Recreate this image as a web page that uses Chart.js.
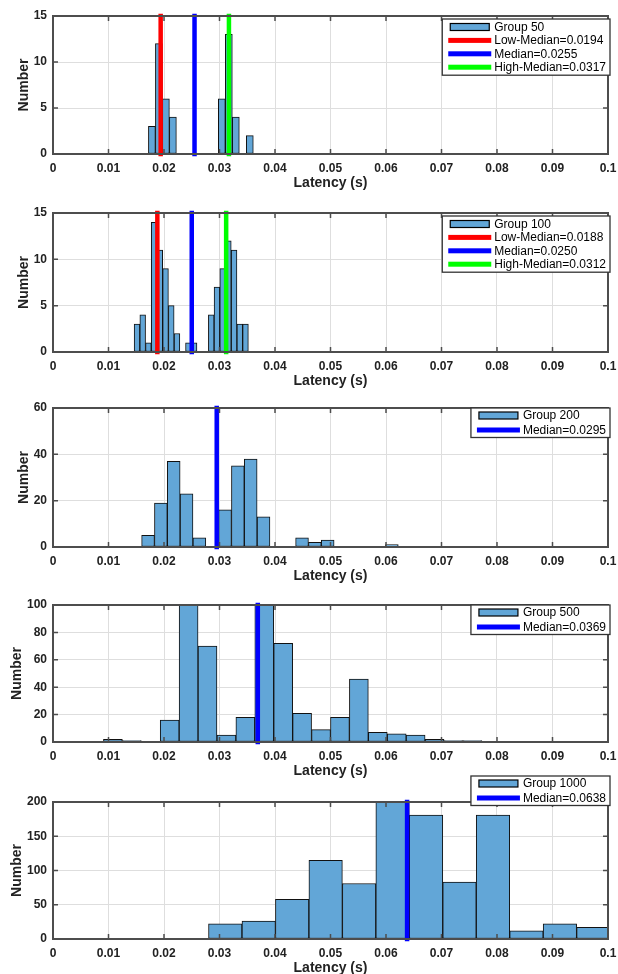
<!DOCTYPE html>
<html>
<head>
<meta charset="utf-8">
<script src="https://cdn.jsdelivr.net/npm/chart.js@4.4.1/dist/chart.umd.min.js"></script>
<style>
  html, body { margin: 0; padding: 0; background: #fff; }
  body { width: 618px; height: 974px; position: relative; overflow: hidden; }
  canvas { position: absolute; left: 0; }
</style>
</head>
<body>
<script>
/* ===============================
   DATA
================================ */
const groupSizes = [50, 100, 200, 500, 1000];

// left edge of first bin and bin width per group (seconds)
const binStarts = [0.01719, 0.01462, 0.01597, 0.00909, 0.0039];
const binWidths = [0.00126, 0.001029, 0.002312, 0.003409, 0.00603];

const counts50 = [3, 12, 6, 4, 0, 0, 0, 0, 0, 0, 6, 13, 4, 0, 2];
const counts100 = [3, 4, 1, 14, 11, 9, 5, 2, 0, 1, 1, 0, 0, 4, 7, 9, 12, 11, 3, 3];
const counts200 = [5, 19, 37, 23, 4, 0, 16, 35, 38, 13, 0, 0, 4, 2, 3, 0, 0, 0, 0, 1];
const counts500 = [2, 1, 0, 16, 100, 70, 5, 18, 100, 72, 21, 9, 18, 46, 7, 6, 5, 2, 1, 1];
const counts1000 = [0, 1, 1, 0, 22, 26, 58, 115, 81, 200, 181, 83, 181, 12, 22, 17];
const groupCounts = [counts50, counts100, counts200, counts500, counts1000];

const lowMedians = [0.0194, 0.0188, null, null, null];
const medians = [0.0255, 0.0250, 0.0295, 0.0369, 0.0638];
const highMedians = [0.0317, 0.0312, null, null, null];

const yMaxes = [15, 15, 60, 100, 200];
const ySteps = [5, 5, 20, 20, 50];

/* ===============================
   LAYOUT / STYLE
================================ */
const panelTops = [16, 213, 408, 605, 802];
const panelBottoms = [154, 352, 547, 742, 939];
const padTop = 30;
const xAxisH = 38;
const legendOffsets = [3, 3, 0, 0, -26];
const yTitlePads = [16, 16, 16, 9, 9];

const barFill = "#62a6d7";
const gridColor = "#dedede";
const frameColor = "#4d4d4d";
const textColor = "#222";
const tickFont = { family: "Liberation Sans, Arial, sans-serif", size: 12, weight: "bold" };
const titleFont = { family: "Liberation Sans, Arial, sans-serif", size: 14, weight: "bold" };

/* ===============================
   PLUGINS
================================ */
const frame = {
    id: "frame",
    afterDraw(chart) {
        const { ctx, chartArea: a } = chart;
        const xs = chart.scales.x, ys = chart.scales.y;
        ctx.save();
        ctx.strokeStyle = frameColor;
        ctx.lineWidth = 1.5;
        ctx.beginPath();
        xs.ticks.forEach(t => {
            const px = xs.getPixelForValue(t.value);
            ctx.moveTo(px, a.bottom); ctx.lineTo(px, a.bottom - 5);
            ctx.moveTo(px, a.top); ctx.lineTo(px, a.top + 5);
        });
        ys.ticks.forEach(t => {
            const py = ys.getPixelForValue(t.value);
            ctx.moveTo(a.left, py); ctx.lineTo(a.left + 5, py);
            ctx.moveTo(a.right, py); ctx.lineTo(a.right - 5, py);
        });
        ctx.stroke();
        ctx.lineWidth = 2;
        ctx.strokeRect(a.left, a.top, a.right - a.left, a.bottom - a.top);
        ctx.restore();
    }
};

const insideLegend = {
    id: "insideLegend",
    afterDraw(chart, args, opts) {
        const { ctx, chartArea: a } = chart;
        const sets = chart.data.datasets;
        ctx.save();
        ctx.font = "12px Liberation Sans, Arial, sans-serif";
        const textW = Math.max(...sets.map(d => ctx.measureText(d.label).width));
        const sampleW = 43;
        const w = 6 + sampleW + 3 + textW + 4;
        const h = opts.pad * 2 + (sets.length - 1) * opts.rowH;
        const x = a.right + 2 - w;
        const y = a.top + opts.offsetY;
        ctx.fillStyle = "#fff";
        ctx.fillRect(x, y, w, h);
        ctx.strokeStyle = "#333";
        ctx.lineWidth = 1.3;
        ctx.strokeRect(x, y, w, h);
        sets.forEach((d, i) => {
            const cy = y + opts.pad + i * opts.rowH;
            const sx = x + 6;
            if (d.type === "line") {
                ctx.fillStyle = d.borderColor;
                ctx.fillRect(sx, cy - 2.5, sampleW, 5);
            } else {
                ctx.fillStyle = d.backgroundColor;
                ctx.fillRect(sx + 2, cy - 3.5, sampleW - 4, 7);
                ctx.strokeStyle = "#000";
                ctx.lineWidth = 1.2;
                ctx.strokeRect(sx + 2, cy - 3.5, sampleW - 4, 7);
            }
            ctx.fillStyle = "#000";
            ctx.textBaseline = "middle";
            ctx.textAlign = "left";
            ctx.fillText(d.label, sx + sampleW + 3, cy + 0.5);
        });
        ctx.restore();
    }
};

/* ===============================
   PANELS
================================ */
function medianSet(label, value, color, yMax) {
    return {
        type: "line",
        label: label + "=" + value.toFixed(4),
        data: [{ x: value, y: 0 }, { x: value, y: yMax }],
        borderColor: color,
        backgroundColor: color,
        borderWidth: 4.5,
        borderCapStyle: "square",
        pointRadius: 0,
        clip: false,
        order: 1
    };
}

function buildPanel(i) {
    const canvas = document.createElement("canvas");
    canvas.width = 618;
    canvas.height = padTop + (panelBottoms[i] - panelTops[i]) + xAxisH;
    canvas.style.top = (panelTops[i] - padTop) + "px";
    canvas.style.zIndex = i + 1;
    document.body.appendChild(canvas);

    const bars = groupCounts[i].map((c, k) => ({
        x: binStarts[i] + (k + 0.5) * binWidths[i],
        y: c
    }));

    const datasets = [{
        label: "Group " + groupSizes[i],
        data: bars,
        backgroundColor: barFill,
        borderColor: "#111",
        borderWidth: 1,
        borderSkipped: false,
        barPercentage: 1,
        categoryPercentage: 1,
        order: 2
    }];
    if (lowMedians[i] !== null) datasets.push(medianSet("Low-Median", lowMedians[i], "#ff0000", yMaxes[i]));
    datasets.push(medianSet("Median", medians[i], "#0000ff", yMaxes[i]));
    if (highMedians[i] !== null) datasets.push(medianSet("High-Median", highMedians[i], "#00ff00", yMaxes[i]));

    const four = datasets.length > 2;

    new Chart(canvas, {
        type: "bar",
        data: { datasets },
        options: {
            responsive: false,
            animation: false,
            devicePixelRatio: 1,
            layout: { padding: { top: padTop, right: 10, left: 0, bottom: 0 } },
            plugins: {
                legend: { display: false },
                tooltip: { enabled: false },
                insideLegend: { offsetY: legendOffsets[i], rowH: four ? 13.4 : 14.5, pad: four ? 8 : 7.5 }
            },
            scales: {
                x: {
                    type: "linear",
                    min: 0,
                    max: 0.1,
                    offset: false,
                    grid: { color: gridColor, drawTicks: false, offset: false },
                    border: { display: false },
                    ticks: {
                        stepSize: 0.01,
                        autoSkip: false,
                        maxRotation: 0,
                        padding: 7,
                        color: textColor,
                        font: tickFont,
                        callback: v => String(+v.toFixed(2))
                    },
                    title: {
                        display: true,
                        text: "Latency (s)",
                        color: textColor,
                        font: titleFont,
                        padding: { top: 0, bottom: 0 }
                    },
                    afterFit: s => { s.height = xAxisH; s.paddingLeft = 0; s.paddingRight = 0; }
                },
                y: {
                    min: 0,
                    max: yMaxes[i],
                    grid: { color: gridColor, drawTicks: false },
                    border: { display: false },
                    ticks: {
                        stepSize: ySteps[i],
                        padding: 6,
                        color: textColor,
                        font: tickFont
                    },
                    title: {
                        display: true,
                        text: "Number",
                        color: textColor,
                        font: titleFont,
                        padding: { top: yTitlePads[i], bottom: 0 }
                    },
                    afterFit: s => { s.width = 53; s.paddingTop = 0; s.paddingBottom = 0; }
                }
            }
        },
        plugins: [frame, insideLegend]
    });
}

groupSizes.forEach((g, i) => buildPanel(i));
</script>
</body>
</html>
